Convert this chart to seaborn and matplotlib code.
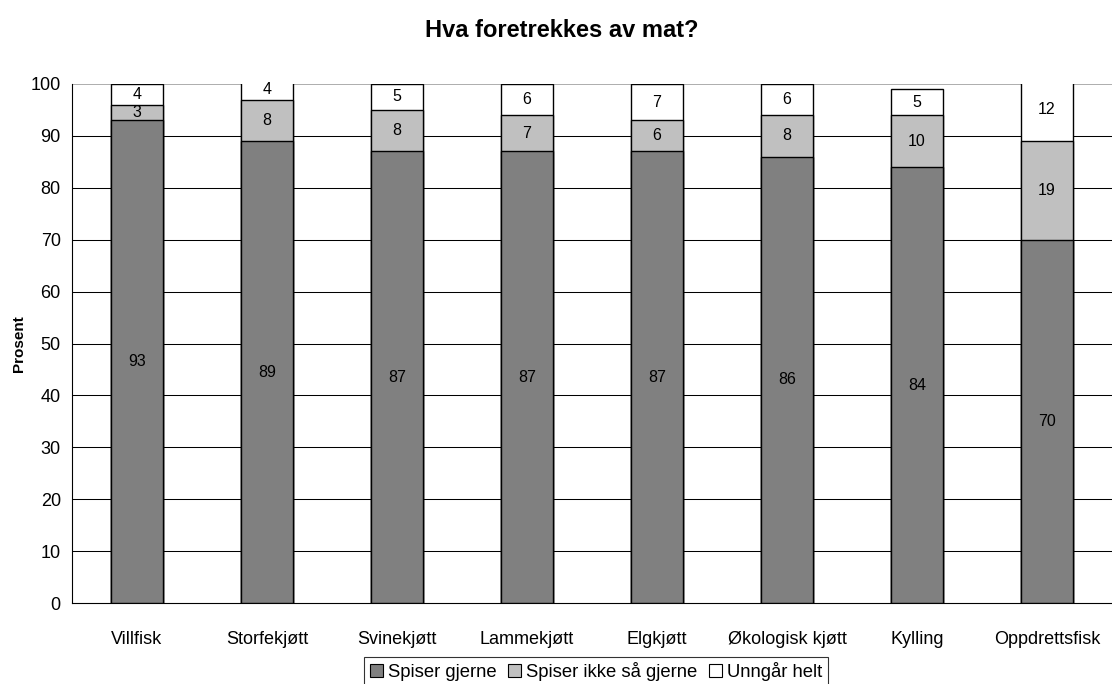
import numpy as np
import pandas as pd
import seaborn as sns
import matplotlib.pyplot as plt
from matplotlib.patches import Patch

categories = ["Villfisk", "Storfekjøtt", "Svinekjøtt", "Lammekjøtt", "Elgkjøtt",
              "Økologisk kjøtt", "Kylling", "Oppdrettsfisk"]
spiser_gjerne = [93, 89, 87, 87, 87, 86, 84, 70]
spiser_ikke_saa = [3, 8, 8, 7, 6, 8, 10, 19]
unngaar_helt = [4, 4, 5, 6, 7, 6, 5, 12]

series = ["Spiser gjerne", "Spiser ikke så gjerne", "Unngår helt"]
colors = ["#808080", "#C0C0C0", "#FFFFFF"]

df = pd.DataFrame({"kat": categories, series[0]: spiser_gjerne,
                   series[1]: spiser_ikke_saa, series[2]: unngaar_helt})
cum = df[series].cumsum(axis=1)

sns.set_style("white")
plt.rcParams["font.family"] = ["Liberation Sans", "DejaVu Sans"]
plt.rcParams.update({"text.color": "black", "axes.labelcolor": "black",
                     "xtick.color": "black", "ytick.color": "black"})

fig = plt.figure(figsize=(11.12, 6.84), dpi=100)
ax = fig.add_axes([0.0647, 0.1184, 0.9353, 0.7588])

# tallest layer first so the lower segments are drawn on top of it
for s, c in reversed(list(zip(series, colors))):
    sns.barplot(x=df["kat"], y=cum[s], color=c, width=0.4, edgecolor="black",
                linewidth=1.0, saturation=1, ax=ax, zorder=3)

for i in range(len(categories)):
    bottom = 0
    for s in series:
        v = df[s].iloc[i]
        ax.text(i, bottom + v / 2, str(v), ha="center", va="center",
                fontsize=11.5, zorder=5)
        bottom += v

ax.set_xlim(-0.5, 7.5)
ax.set_ylim(0, 100)
ax.set_yticks(np.arange(0, 101, 10))
for y in range(10, 100, 10):
    ax.axhline(y, color="black", lw=0.75, zorder=1)
ax.axhline(100, color="#A0A0A0", lw=1.2, zorder=1)

ax.set_xticks(range(len(categories)))
ax.set_xticklabels(categories, fontsize=13)
ax.set_xticks(np.arange(-0.5, 8, 1), minor=True)
ax.tick_params(axis="x", which="major", length=0, pad=20)
ax.tick_params(axis="x", which="minor", length=6, width=0.8, direction="out")
ax.tick_params(axis="y", length=5, width=0.8, direction="out", labelsize=13, pad=3)
ax.set_xlabel("")
ax.set_ylabel("Prosent", fontsize=11, fontweight="bold")
ax.yaxis.set_label_coords(-0.0445, 0.5)

for side in ["top", "right"]:
    ax.spines[side].set_visible(False)
for side in ["left", "bottom"]:
    ax.spines[side].set_color("black")
    ax.spines[side].set_linewidth(0.8)

fig.suptitle("Hva foretrekkes av mat?", fontsize=17, fontweight="bold", x=0.505, y=0.972)

handles = [Patch(facecolor=c, edgecolor="black", linewidth=0.8) for c in colors]
leg = fig.legend(handles, series, loc="lower center", bbox_to_anchor=(0.536, -0.004),
                 ncol=3, frameon=True, fontsize=13.3, handlelength=0.7, handleheight=0.7,
                 handletextpad=0.3, columnspacing=0.6, borderpad=0.3, fancybox=False,
                 borderaxespad=0)
leg.get_frame().set_edgecolor("black")
leg.get_frame().set_linewidth(0.8)

fig.savefig("out.png", dpi=100)
